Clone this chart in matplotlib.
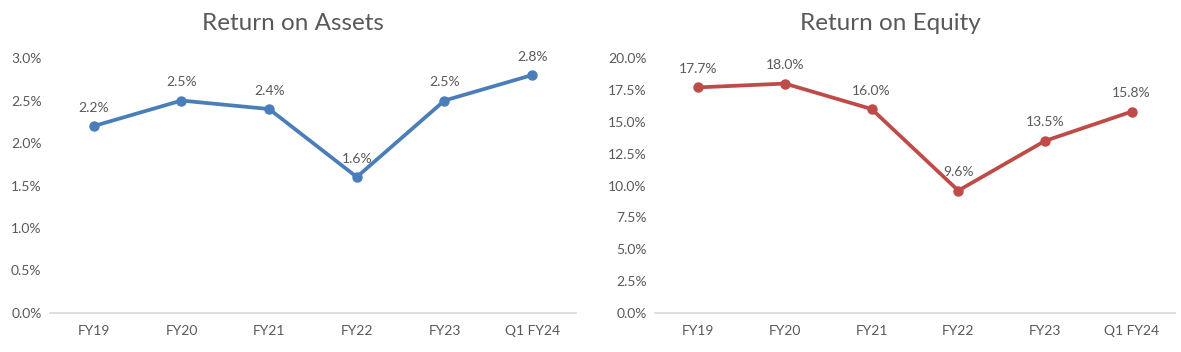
import matplotlib.pyplot as plt
import numpy as np

# Данные
periods = ['FY19', 'FY20', 'FY21', 'FY22', 'FY23', 'Q1 FY24']
roa = [2.2, 2.5, 2.4, 1.6, 2.5, 2.8]
roe = [17.7, 18.0, 16.0, 9.6, 13.5, 15.8]

plt.rcParams['font.family'] = ['Lato', 'DejaVu Sans']
text_color = '#595959'

fig = plt.figure(figsize=(11.81, 3.52), dpi=100)
ax1 = fig.add_axes([0.0423, 0.111, 0.4454, 0.724])
ax2 = fig.add_axes([0.5546, 0.111, 0.4403, 0.724])


def draw_panel(ax, values, color, title, ymax, step, title_x):
    x = np.arange(len(periods))
    ax.plot(x, values, color=color, lw=2.7, marker='o', ms=6.5, zorder=3)
    for xi, v in zip(x, values):
        ax.annotate(f'{v:.1f}%', (xi, v), xytext=(0, 9), textcoords='offset points',
                    ha='center', va='bottom', fontsize=10, color=text_color)
    ax.set_xlim(-0.5, len(periods) - 0.5)
    ax.set_ylim(0, ymax)
    ax.set_yticks(np.arange(0, ymax + step / 2, step))
    ax.set_yticklabels([f'{t:.1f}%' for t in ax.get_yticks()])
    ax.set_xticks(x)
    ax.set_xticklabels(periods)
    ax.tick_params(axis='both', length=0, labelsize=10, colors=text_color)
    ax.tick_params(axis='x', pad=9)
    ax.tick_params(axis='y', pad=6)
    for s in ['top', 'right', 'left']:
        ax.spines[s].set_visible(False)
    ax.spines['bottom'].set_color('#d9d9d9')
    ax.spines['bottom'].set_linewidth(1.2)
    ax.set_title(title, fontsize=17.5, color=text_color, pad=20, x=title_x)


draw_panel(ax1, roa, '#4a7ebb', 'Return on Assets', 3.0, 0.5, 0.462)
draw_panel(ax2, roe, '#be4b48', 'Return on Equity', 20.0, 2.5, 0.452)

fig.savefig('out.png', dpi=100)
